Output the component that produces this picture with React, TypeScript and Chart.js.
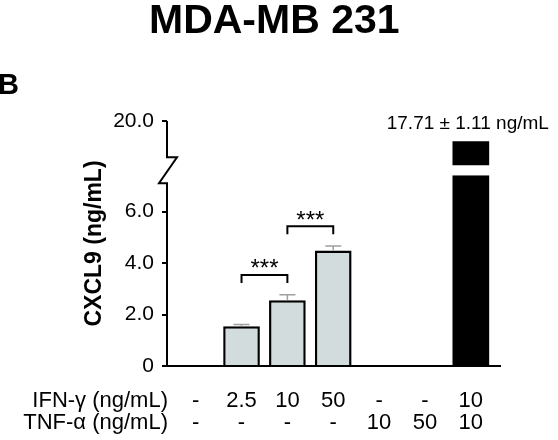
import { useEffect, useRef } from "react"
import { Chart, registerables } from "chart.js"

Chart.register(...registerables)

const FONT = "'Liberation Sans', Arial, Helvetica, sans-serif"
Chart.defaults.font.family = FONT
Chart.defaults.color = "#000"

// conditions (x axis, two rows)
const IFN_LABELS = ["-", "2.5", "10", "50", "-", "-", "10"]
const TNF_LABELS = ["-", "-", "-", "-", "10", "50", "10"]
const ROW_TITLES = ["IFN-γ (ng/mL)", "TNF-α (ng/mL)"]

// CXCL9 (ng/mL), mean and SEM
const CXCL9 = [0, 1.54, 2.55, 4.49, 0, 0, 17.71]
const CXCL9_SEM = [0, 0.07, 0.22, 0.17, 0, 0, 1.11]
const BAR_COLORS = ["#d3dcdc", "#d3dcdc", "#d3dcdc", "#d3dcdc", "#d3dcdc", "#d3dcdc", "#000000"]

// significance brackets
const SIG_PAIRS = [[1, 2], [2, 3]]
const SIG_LABELS = ["***", "***"]

// broken y axis
const LOW_TICKS = [0, 2, 4, 6]
const TOP_TICKS = [20]
const LOW_RANGE = [0, 7.41]
const TOP_RANGE = [15, 20]

const X_PAD = 23.5
const X_FONT = 22
const X_LH = 1.02

const tickText = (v: number) => (v === 0 ? "0" : v.toFixed(1))

const decor = {
    id: "decor",
    afterDatasetsDraw(chart: any) {
        const ctx = chart.ctx
        const { left } = chart.chartArea
        const x = chart.scales.x
        const yTop = chart.scales.yTop
        const yLow = chart.scales.yLow
        ctx.save()

        // y axis with break
        ctx.strokeStyle = "#000"
        ctx.lineWidth = 2
        const b1 = yTop.bottom - 8
        const b2 = yLow.top + 8
        ctx.beginPath()
        ctx.moveTo(left, yTop.top)
        ctx.lineTo(left, b1)
        ctx.lineTo(left + 10, b1)
        ctx.lineTo(left - 8, b2)
        ctx.lineTo(left, b2)
        ctx.lineTo(left, yLow.bottom + 1)
        ctx.stroke()

        // error bars
        ctx.strokeStyle = "#a0a0a0"
        ctx.lineWidth = 1.5
        CXCL9.forEach((v, i) => {
            const e = CXCL9_SEM[i]
            if (!e || v + e > LOW_RANGE[1]) return
            const px = x.getPixelForValue(i)
            const y0 = yLow.getPixelForValue(v)
            const y1 = yLow.getPixelForValue(v + e)
            ctx.beginPath()
            ctx.moveTo(px, y0)
            ctx.lineTo(px, y1)
            ctx.moveTo(px - 8, y1)
            ctx.lineTo(px + 8, y1)
            ctx.stroke()
        })

        // significance brackets
        ctx.strokeStyle = "#000"
        ctx.lineWidth = 2
        ctx.fillStyle = "#000"
        ctx.font = `24px ${FONT}`
        ctx.textAlign = "center"
        ctx.textBaseline = "alphabetic"
        SIG_PAIRS.forEach(([a, b], k) => {
            const top = Math.max(CXCL9[a] + CXCL9_SEM[a], CXCL9[b] + CXCL9_SEM[b]) + 0.77
            const yy = yLow.getPixelForValue(top)
            const xa = x.getPixelForValue(a)
            const xb = x.getPixelForValue(b)
            ctx.beginPath()
            ctx.moveTo(xa, yy + 8)
            ctx.lineTo(xa, yy)
            ctx.lineTo(xb, yy)
            ctx.lineTo(xb, yy + 8)
            ctx.stroke()
            ctx.fillText(SIG_LABELS[k], (xa + xb) / 2, yy + 1.5)
        })

        // value label for the broken bar
        ctx.font = `19px ${FONT}`
        CXCL9.forEach((v, i) => {
            if (v <= LOW_RANGE[1]) return
            const txt = `${v.toFixed(2)} ± ${CXCL9_SEM[i].toFixed(2)} ng/mL`
            ctx.fillText(txt, x.getPixelForValue(i) - 3, yTop.getPixelForValue(v) - 12.5)
        })

        // row titles, aligned with the tick label lines
        const item = x.getLabelItems()[0]
        const lh = item.font.lineHeight
        ctx.font = `${X_FONT}px ${FONT}`
        ctx.textAlign = "right"
        ctx.textBaseline = item.options.textBaseline
        ROW_TITLES.forEach((t, i) => {
            ctx.fillText(t, left + 1, item.options.translation[1] + item.textOffset + lh * i)
        })

        // y title
        ctx.font = `bold 23px ${FONT}`
        ctx.textAlign = "center"
        ctx.textBaseline = "alphabetic"
        ctx.save()
        ctx.translate(101, (yTop.top + yLow.bottom) / 2)
        ctx.rotate(-Math.PI / 2)
        ctx.fillText("CXCL9 (ng/mL)", 0, 0)
        ctx.restore()

        // headings
        ctx.textAlign = "left"
        ctx.font = `bold 41px ${FONT}`
        ctx.fillText("MDA-MB 231", 149, 33)
        ctx.font = `bold 29px ${FONT}`
        ctx.fillText("B", -2, 94)

        ctx.restore()
    }
}

const yCommon = {
    type: "linear" as const,
    position: "left" as const,
    stack: "y",
    afterFit: (s: any) => { s.width = 167 },
    border: { display: false },
    grid: { drawOnChartArea: false, tickLength: 5, color: "#000", lineWidth: 2 },
    ticks: { padding: 8, font: { size: 21 }, color: "#000", callback: (v: any) => tickText(Number(v)) },
}

const barCommon = {
    backgroundColor: BAR_COLORS,
    borderColor: "#000",
    borderWidth: BAR_COLORS.map(c => (c === "#000000" ? 0 : 2.5)),
    barPercentage: 0.8,
    categoryPercentage: 1,
    grouped: false,
    clip: 0,
}

const CxclChart = () => {
    const chartRef = useRef<HTMLCanvasElement>(null)
    useEffect(() => {
        if (!chartRef.current)
            return
        const chart = new Chart(chartRef.current, {
            type: "bar",
            plugins: [decor],
            data: {
                datasets: [
                    {
                        ...barCommon,
                        label: "low",
                        yAxisID: "yLow",
                        data: CXCL9.map((v, i) => ({ x: i, y: Math.min(v, LOW_RANGE[1]) })),
                    },
                    {
                        ...barCommon,
                        label: "high",
                        yAxisID: "yTop",
                        data: CXCL9.map((v, i) => ({ x: i, y: v > TOP_RANGE[0] ? v : null })),
                    },
                ] as any,
            },
            options: {
                responsive: false,
                animation: false,
                layout: { padding: { top: 121, right: 58, left: 0, bottom: 0 } },
                plugins: {
                    legend: { display: false },
                    tooltip: { enabled: false },
                },
                scales: {
                    x: {
                        type: "linear",
                        offset: false,
                        min: -0.625,
                        max: 6.636,
                        afterBuildTicks: (s: any) => { s.ticks = IFN_LABELS.map((_, i) => ({ value: i })) },
                        afterFit: (s: any) => { s.height = 74 },
                        grid: { display: false, drawTicks: false },
                        border: { color: "#000", width: 2 },
                        ticks: {
                            padding: X_PAD,
                            autoSkip: false,
                            maxRotation: 0,
                            color: "#000",
                            font: { size: X_FONT, lineHeight: X_LH },
                            callback: (_v: any, i: number) => [IFN_LABELS[i], TNF_LABELS[i]],
                        },
                    },
                    yLow: {
                        ...yCommon,
                        stackWeight: 190.7,
                        min: LOW_RANGE[0],
                        max: LOW_RANGE[1],
                        afterBuildTicks: (s: any) => { s.ticks = LOW_TICKS.map(value => ({ value })) },
                    },
                    yGap: {
                        type: "linear",
                        position: "left",
                        stack: "y",
                        stackWeight: 10,
                        min: 0,
                        max: 1,
                        afterFit: (s: any) => { s.width = 167 },
                        border: { display: false },
                        grid: { display: false },
                        ticks: { display: false },
                    },
                    yTop: {
                        ...yCommon,
                        stackWeight: 44.3,
                        min: TOP_RANGE[0],
                        max: TOP_RANGE[1],
                        afterBuildTicks: (s: any) => { s.ticks = TOP_TICKS.map(value => ({ value })) },
                    },
                } as any,
            },
        })
        return () => {
            chart.destroy()
        }
    }, [])
    return <div style={{ position: "fixed", left: 0, top: 0, width: 558, height: 440, background: "#fff" }}>
        <canvas ref={chartRef} width={558} height={440} style={{ display: "block" }}></canvas>
    </div>
}

export default function App() {
    return <CxclChart />
}
